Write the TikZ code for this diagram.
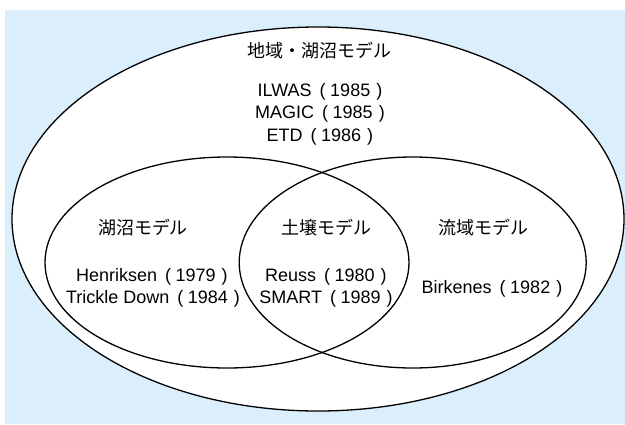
\documentclass[tikz,border=0pt]{standalone}
\usepackage{fontspec}
\setmainfont{Liberation Sans}
\newfontfamily\jp{Noto Sans CJK JP}
\usetikzlibrary{shapes.geometric}
\definecolor{bgblue}{RGB}{219,238,251}
\newcommand\yr[1]{\hspace{8pt}(\hspace{4.5pt}#1\hspace{6pt})}
\tikzset{
  venn/.style={draw=black, line width=1.3pt, ellipse, inner sep=0pt, outer sep=0pt},
  lat/.style={anchor=base, inner sep=0pt, font=\fontsize{18}{20}\selectfont},
  jpl/.style={anchor=base, inner sep=0pt, font=\jp\fontsize{18}{20}\selectfont},
}
\begin{document}
\begin{tikzpicture}[x=1pt,y=-1pt]
\useasboundingbox (0,0) rectangle (625,424);
\fill[bgblue] (5,10) rectangle (625,424);
\node[venn, fill=white, minimum width=612pt, minimum height=384pt] (outer) at (318,219) {};
\node[venn, minimum width=364pt, minimum height=211pt] (lake) at (227,262.5) {};
\node[venn, minimum width=347pt, minimum height=211pt] (basin) at (412.7,262.5) {};
\node[jpl] (title) at (319,57) {地域・湖沼モデル};
\node[lat] (ilwas) at (320,96) {ILWAS\yr{1985}};
\node[lat] (magic) at (320,118.5) {MAGIC\yr{1985}};
\node[lat] (etd) at (320,141) {ETD\yr{1986}};
\node[jpl] (lakelbl) at (143,234) {湖沼モデル};
\node[jpl] (soillbl) at (326,234) {土壌モデル};
\node[jpl] (basinlbl) at (483,234) {流域モデル};
\node[lat] (henr) at (152,281) {Henriksen\yr{1979}};
\node[lat] (trickle) at (153,303) {Trickle Down\yr{1984}};
\node[lat] (reuss) at (326,281) {Reuss\yr{1980}};
\node[lat] (smart) at (326,303) {SMART\yr{1989}};
\node[lat] (birk) at (492,293) {Birkenes\yr{1982}};
\end{tikzpicture}
\end{document}
